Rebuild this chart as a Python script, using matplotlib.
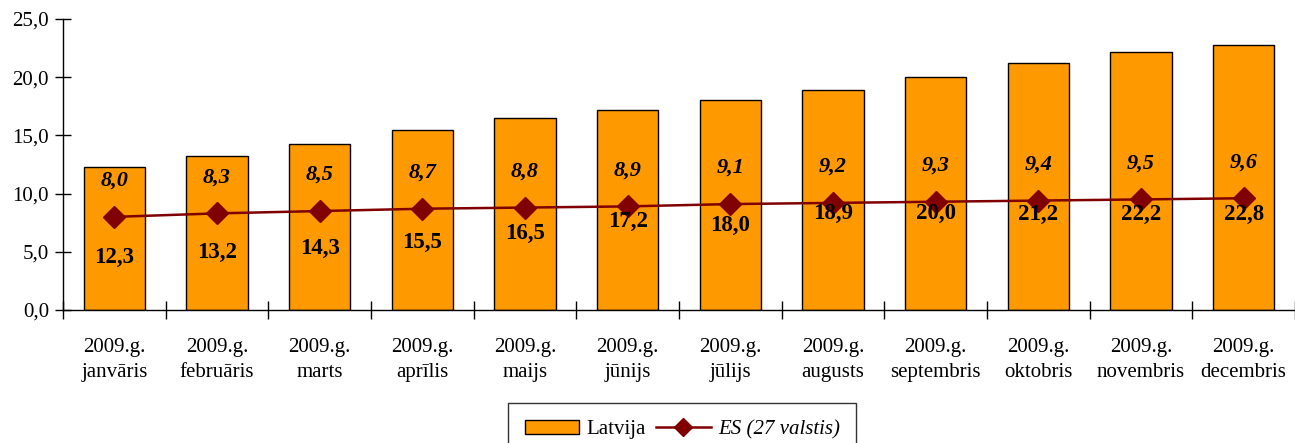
import matplotlib.pyplot as plt
import numpy as np

plt.rcParams['font.family'] = ['Liberation Serif', 'DejaVu Serif']

months = ['janvāris', 'februāris', 'marts', 'aprīlis', 'maijs', 'jūnijs',
          'jūlijs', 'augusts', 'septembris', 'oktobris', 'novembris', 'decembris']
latvija = [12.3, 13.2, 14.3, 15.5, 16.5, 17.2, 18.0, 18.9, 20.0, 21.2, 22.2, 22.8]
es27 = [8.0, 8.3, 8.5, 8.7, 8.8, 8.9, 9.1, 9.2, 9.3, 9.4, 9.5, 9.6]
# where the bar labels sit
bar_label_y = [4.5, 4.9, 5.3, 5.8, 6.6, 7.6, 7.3, 8.3, 8.3, 8.2, 8.2, 8.2]

labels = ['2009.g.\n' + m for m in months]
x = np.arange(len(months))

fig = plt.figure(figsize=(12.95, 4.43), dpi=100)
ax = fig.add_axes([63 / 1295, 1 - 310 / 443, 1 - 63 / 1295, 291 / 443])

bars = ax.bar(x, latvija, width=0.6, color='#FF9900', edgecolor='black',
              linewidth=1.0, label='Latvija', zorder=2)
line, = ax.plot(x, es27, color='#800000', linewidth=1.8, marker='D', markersize=11,
                label='ES (27 valstis)', zorder=3)

for i in range(len(x)):
    ax.text(x[i], bar_label_y[i], f'{latvija[i]:.1f}'.replace('.', ','),
            ha='center', va='center', fontsize=16.5, fontweight='bold', zorder=4)
    ax.text(x[i], es27[i] + 3.1, f'{es27[i]:.1f}'.replace('.', ','),
            ha='center', va='center', fontsize=16, fontweight='bold',
            fontstyle='italic', zorder=4)

ax.set_xlim(-0.5, len(x) - 0.5)
ax.set_ylim(0, 25)
ax.set_yticks(np.arange(0, 25.1, 5))
ax.set_yticklabels([f'{v:.1f}'.replace('.', ',') for v in np.arange(0, 25.1, 5)])

ax.set_xticks(np.arange(-0.5, len(x), 1.0))
ax.set_xticklabels([])
ax.set_xticks(x, minor=True)
ax.set_xticklabels(labels, minor=True, linespacing=1.45)
ax.tick_params(axis='x', which='major', direction='inout', length=13, width=1)
ax.tick_params(axis='x', which='minor', length=0, pad=20, labelsize=15)
ax.tick_params(axis='y', direction='inout', length=12, width=1, labelsize=15, pad=4)

for s in ['top', 'right']:
    ax.spines[s].set_visible(False)
ax.spines['left'].set_linewidth(1)
ax.spines['bottom'].set_linewidth(1)

leg = fig.legend([bars, line], ['Latvija', 'ES (27 valstis)'],
                 loc='upper center', bbox_to_anchor=(0.527, 0.114), ncol=2,
                 frameon=True, fancybox=False, edgecolor='black', fontsize=15,
                 handlelength=2.6, columnspacing=0.5, handletextpad=0.35,
                 borderpad=0.8, markerscale=0.8)
leg.get_frame().set_linewidth(1)
leg.texts[1].set_fontstyle('italic')

fig.savefig('out.png', dpi=100)
